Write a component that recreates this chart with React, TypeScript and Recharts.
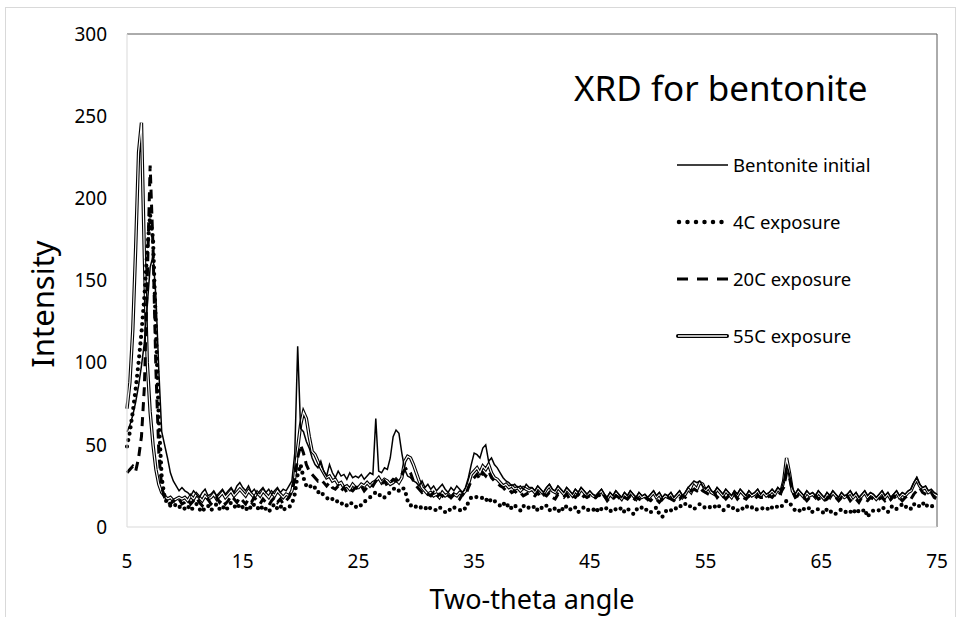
import React from "react"
import { Line, LineChart, ReferenceLine, XAxis, YAxis } from "recharts"

// XRD scan: 5° to 75° two-theta, read every 0.25°
const ANGLE_START = 5
const ANGLE_STEP = 0.25

const bentoniteInitial = [
  58, 62, 68, 76, 86, 98, 112, 135, 158, 165, 140, 95, 58, 50, 42, 33, 28, 25, 22, 24,
  22, 21, 19, 22, 20, 18, 21, 23, 19, 20, 22, 19, 21, 23, 20, 22, 24, 21, 25, 27,
  24, 22, 25, 21, 23, 20, 22, 24, 21, 23, 20, 22, 24, 21, 23, 22, 25, 28, 45, 110,
  60, 58, 52, 48, 42, 38, 36, 40, 34, 31, 38, 33, 30, 34, 31, 32, 29, 33, 30, 31,
  30, 32, 29, 31, 33, 32, 66, 34, 33, 36, 35, 42, 55, 59, 57, 45, 35, 31, 30, 28,
  27, 25, 28, 24, 26, 23, 25, 22, 24, 26, 23, 21, 24, 22, 25, 23, 21, 24, 30, 38,
  45, 44, 42, 48, 50, 40, 42, 38, 36, 33, 30, 28, 27, 25, 26, 24, 25, 23, 26, 24,
  24, 22, 25, 23, 21, 24, 26, 23, 22, 25, 23, 21, 24, 22, 20, 23, 21, 24, 22, 20,
  22, 20, 19, 21, 23, 20, 18, 21, 19, 22, 20, 18, 21, 19, 22, 20, 18, 21, 19, 20,
  18, 20, 22, 19, 21, 18, 20, 19, 21, 18, 20, 22, 19, 21, 24, 26, 28, 27, 28, 25,
  23, 25, 22, 21, 24, 22, 20, 23, 21, 19, 22, 20, 23, 21, 19, 22, 20, 21, 23, 20,
  22, 20, 21, 23, 21, 24, 22, 28, 38, 32, 24, 20, 23, 21, 19, 22, 20, 21, 19, 22,
  20, 18, 21, 19, 22, 20, 18, 21, 19, 20, 22, 19, 21, 18, 20, 22, 19, 21, 20, 18,
  20, 22, 19, 21, 18, 20, 22, 19, 21, 20, 22, 23, 27, 30, 26, 24, 25, 22, 23, 21,
  20,
]

const exposure4C = [
  49, 58, 70, 84, 100, 118, 140, 168, 190, 175, 120, 65, 30, 18, 14, 13, 12, 14, 12, 13,
  11, 13, 10, 12, 14, 11, 9, 12, 13, 10, 12, 14, 11, 13, 10, 12, 15, 13, 11, 14,
  12, 10, 13, 11, 14, 12, 10, 13, 11, 9, 12, 14, 11, 13, 10, 12, 12, 14, 20, 32,
  38, 30, 25, 26, 23, 24, 21, 22, 19, 18, 16, 17, 15, 16, 14, 15, 13, 15, 14, 12,
  14, 13, 15, 17, 18, 20, 21, 19, 20, 18, 20, 21, 23, 24, 22, 24, 23, 16, 13, 14,
  12, 13, 11, 12, 10, 12, 11, 10, 12, 11, 9, 11, 10, 12, 11, 10, 12, 11, 15, 18,
  19, 18, 17, 18, 16, 18, 15, 16, 14, 13, 15, 12, 14, 11, 13, 12, 10, 13, 11, 12,
  11, 13, 10, 12, 11, 13, 10, 12, 11, 9, 12, 10, 13, 11, 10, 12, 9, 11, 12, 10,
  11, 10, 12, 9, 11, 10, 12, 10, 9, 11, 10, 12, 9, 11, 10, 8, 11, 10, 12, 10,
  11, 9, 10, 12, 8, 6, 9, 11, 10, 12, 11, 13, 12, 14, 12, 13, 11, 12, 14, 12,
  12, 13, 11, 12, 14, 12, 10, 11, 13, 11, 12, 10, 12, 11, 13, 11, 12, 10, 11, 12,
  11, 12, 10, 12, 11, 13, 12, 14, 16, 15, 12, 10, 11, 9, 11, 10, 12, 9, 10, 11,
  10, 8, 11, 9, 10, 8, 9, 11, 10, 8, 9, 11, 8, 10, 9, 11, 6, 9, 10, 11,
  10, 12, 11, 9, 12, 13, 11, 12, 14, 12, 13, 11, 14, 12, 13, 15, 12, 14, 13, 12,
  11,
]

const exposure20C = [
  33, 35, 37, 34, 42, 55, 85, 150, 220, 170, 95, 45, 24, 18, 15, 14, 16, 15, 17, 14,
  15, 17, 14, 16, 18, 15, 13, 16, 17, 14, 16, 18, 15, 17, 14, 16, 19, 17, 15, 18,
  16, 14, 17, 15, 18, 16, 14, 17, 15, 13, 16, 18, 15, 17, 14, 16, 18, 22, 30, 42,
  50, 45, 38, 34, 32, 30, 28, 29, 27, 25, 27, 24, 23, 25, 22, 24, 21, 23, 22, 24,
  23, 25, 22, 24, 26, 25, 28, 27, 26, 28, 25, 27, 29, 28, 30, 32, 35, 36, 33, 28,
  25, 23, 21, 22, 20, 19, 21, 18, 20, 19, 17, 19, 18, 20, 19, 17, 20, 19, 24, 28,
  30, 32, 29, 33, 31, 34, 30, 28, 27, 25, 24, 22, 23, 21, 22, 20, 21, 19, 20, 21,
  20, 19, 21, 18, 20, 19, 21, 18, 17, 20, 19, 18, 20, 17, 19, 18, 20, 17, 19, 18,
  19, 17, 18, 20, 17, 19, 16, 18, 17, 19, 18, 16, 18, 17, 19, 16, 18, 17, 16, 18,
  17, 16, 18, 17, 15, 17, 16, 18, 17, 16, 18, 17, 19, 18, 20, 22, 23, 22, 24, 22,
  21, 20, 19, 21, 18, 20, 19, 17, 19, 18, 20, 17, 19, 18, 17, 19, 18, 17, 19, 18,
  18, 17, 19, 18, 20, 19, 21, 24, 33, 30, 22, 18, 19, 17, 18, 16, 18, 17, 19, 17,
  18, 16, 17, 19, 17, 18, 16, 18, 17, 19, 16, 18, 17, 15, 18, 17, 16, 18, 17, 16,
  17, 18, 16, 18, 17, 19, 17, 18, 16, 18, 19, 17, 20, 22, 24, 21, 20, 19, 21, 18,
  17,
]

const exposure55C = [
  72, 88, 120, 170, 228, 246, 165, 100, 70, 50, 35, 26, 21, 19, 17, 18, 16, 17, 18, 17,
  18, 16, 19, 17, 20, 18, 16, 19, 17, 18, 20, 17, 19, 21, 18, 20, 22, 19, 21, 23,
  21, 19, 22, 20, 18, 21, 19, 22, 20, 18, 21, 19, 22, 20, 18, 20, 19, 22, 30, 48,
  62, 70, 66, 55, 46, 44, 40, 36, 33, 30, 31, 28, 29, 26, 27, 24, 25, 23, 26, 24,
  24, 26, 25, 27, 25, 27, 28, 30, 27, 29, 28, 26, 27, 29, 27, 30, 40, 43, 42, 38,
  33, 28, 24, 22, 20, 21, 19, 20, 18, 21, 19, 20, 18, 20, 19, 21, 20, 22, 26, 32,
  34, 36, 33, 37, 35, 38, 33, 30, 29, 27, 25, 26, 24, 25, 23, 24, 22, 24, 23, 22,
  23, 21, 24, 22, 20, 23, 25, 22, 21, 24, 22, 20, 23, 21, 19, 22, 20, 23, 21, 19,
  21, 19, 18, 20, 22, 19, 17, 20, 18, 21, 19, 17, 20, 18, 21, 19, 17, 20, 18, 19,
  17, 19, 21, 18, 20, 17, 19, 18, 20, 17, 19, 21, 18, 20, 23, 21, 25, 23, 27, 26,
  22, 24, 21, 20, 23, 21, 19, 22, 20, 18, 21, 19, 22, 20, 18, 21, 19, 20, 22, 19,
  21, 19, 20, 22, 20, 23, 21, 28, 42, 33, 22, 19, 22, 20, 18, 21, 19, 20, 18, 21,
  19, 17, 20, 18, 21, 19, 17, 20, 18, 19, 21, 18, 20, 17, 19, 21, 18, 20, 19, 17,
  19, 21, 18, 20, 17, 19, 21, 18, 20, 19, 21, 22, 26, 29, 25, 23, 24, 21, 22, 20,
  19,
]

const xTicks = [5, 15, 25, 35, 45, 55, 65, 75]
const yTicks = [0, 50, 100, 150, 200, 250, 300]

const legendItems = ["Bentonite initial", "4C exposure", "20C exposure", "55C exposure"]

const data = bentoniteInitial.map((v, i) => ({
  angle: ANGLE_START + i * ANGLE_STEP,
  initial: v,
  c4: exposure4C[i],
  c20: exposure20C[i],
  c55: exposure55C[i],
}))

const FONT = "'Noto Sans', 'Open Sans', sans-serif"

function LegendSample({ index }: { index: number }) {
  return (
    <svg width={54} height={12} style={{ display: "block" }}>
      {index === 0 && <line x1={1} y1={6} x2={52} y2={6} stroke="#000" strokeWidth={1.3} />}
      {index === 1 && (
        <line x1={3} y1={6} x2={52} y2={6} stroke="#000" strokeWidth={4.5} strokeLinecap="round" strokeDasharray="0 8.5" />
      )}
      {index === 2 && <line x1={1} y1={6} x2={52} y2={6} stroke="#000" strokeWidth={3} strokeDasharray="11 9" />}
      {index === 3 && (
        <>
          <line x1={2} y1={6} x2={51} y2={6} stroke="#000" strokeWidth={4} strokeLinecap="round" />
          <line x1={2} y1={6} x2={51} y2={6} stroke="#fff" strokeWidth={1.6} />
        </>
      )}
    </svg>
  )
}

function SeriesLegend() {
  return (
    <div style={{ position: "absolute", left: 676, top: 136, fontSize: 18.5, color: "#000" }}>
      {legendItems.map((label, i) => (
        <div key={label} style={{ display: "flex", alignItems: "center", height: 57 }}>
          <LegendSample index={i} />
          <span style={{ marginLeft: 3, whiteSpace: "nowrap" }}>{label}</span>
        </div>
      ))}
    </div>
  )
}

export default function App() {
  return (
    <div
      style={{
        position: "absolute",
        left: 0,
        top: 0,
        width: 967,
        height: 617,
        overflow: "hidden",
        background: "#fff",
        fontFamily: FONT,
      }}
    >
      <div
        style={{
          position: "absolute",
          left: 5,
          top: 7,
          width: 951,
          height: 640,
          border: "1px solid #d9d9d9",
          boxSizing: "border-box",
        }}
      />
      <LineChart
        width={967}
        height={617}
        data={data}
        margin={{ top: 34, right: 30, left: 67, bottom: 60 }}
        style={{ position: "absolute", left: 0, top: 0 }}
      >
        <XAxis
          dataKey="angle"
          type="number"
          domain={[5, 75]}
          ticks={xTicks}
          interval={0}
          axisLine={{ stroke: "#d9d9d9" }}
          tickLine={false}
          tickSize={0}
          tickMargin={28}
          tick={{ fontSize: 19, fill: "#000", fontFamily: FONT }}
          height={30}
        />
        <YAxis
          type="number"
          domain={[0, 300]}
          ticks={yTicks}
          interval={0}
          axisLine={{ stroke: "#d9d9d9" }}
          tickLine={false}
          tickSize={0}
          tickMargin={20}
          tick={{ fontSize: 19, fill: "#000", fontFamily: FONT }}
          width={60}
        />
        <ReferenceLine y={300} stroke="#595959" strokeWidth={1} />
        <ReferenceLine x={75} stroke="#595959" strokeWidth={1} />
        <Line type="linear" dataKey="c55" stroke="#000" strokeWidth={3.4} dot={false} activeDot={false} isAnimationActive={false} />
        <Line type="linear" dataKey="c55" stroke="#fff" strokeWidth={1.2} dot={false} activeDot={false} isAnimationActive={false} />
        <Line type="linear" dataKey="initial" stroke="#000" strokeWidth={1.5} dot={false} activeDot={false} isAnimationActive={false} />
        <Line type="linear" dataKey="c20" stroke="#000" strokeWidth={3} strokeDasharray="9 6" dot={false} activeDot={false} isAnimationActive={false} />
        <Line
          type="linear"
          dataKey="c4"
          stroke="#000"
          strokeWidth={4.2}
          strokeLinecap="round"
          strokeDasharray="0 6.5"
          dot={false}
          activeDot={false}
          isAnimationActive={false}
        />
      </LineChart>
      <SeriesLegend />
      <div
        style={{
          position: "absolute",
          left: 574,
          top: 66,
          fontSize: 35,
          color: "#000",
          whiteSpace: "nowrap",
          lineHeight: "44px",
        }}
      >
        XRD for bentonite
      </div>
      <div
        style={{
          position: "absolute",
          left: 42,
          top: 304,
          transform: "translate(-50%, -50%) rotate(-90deg)",
          fontSize: 31,
          color: "#000",
          whiteSpace: "nowrap",
        }}
      >
        Intensity
      </div>
      <div
        style={{
          position: "absolute",
          left: 532,
          top: 598,
          transform: "translate(-50%, -50%)",
          fontSize: 27,
          color: "#000",
          whiteSpace: "nowrap",
        }}
      >
        Two-theta angle
      </div>
    </div>
  )
}
